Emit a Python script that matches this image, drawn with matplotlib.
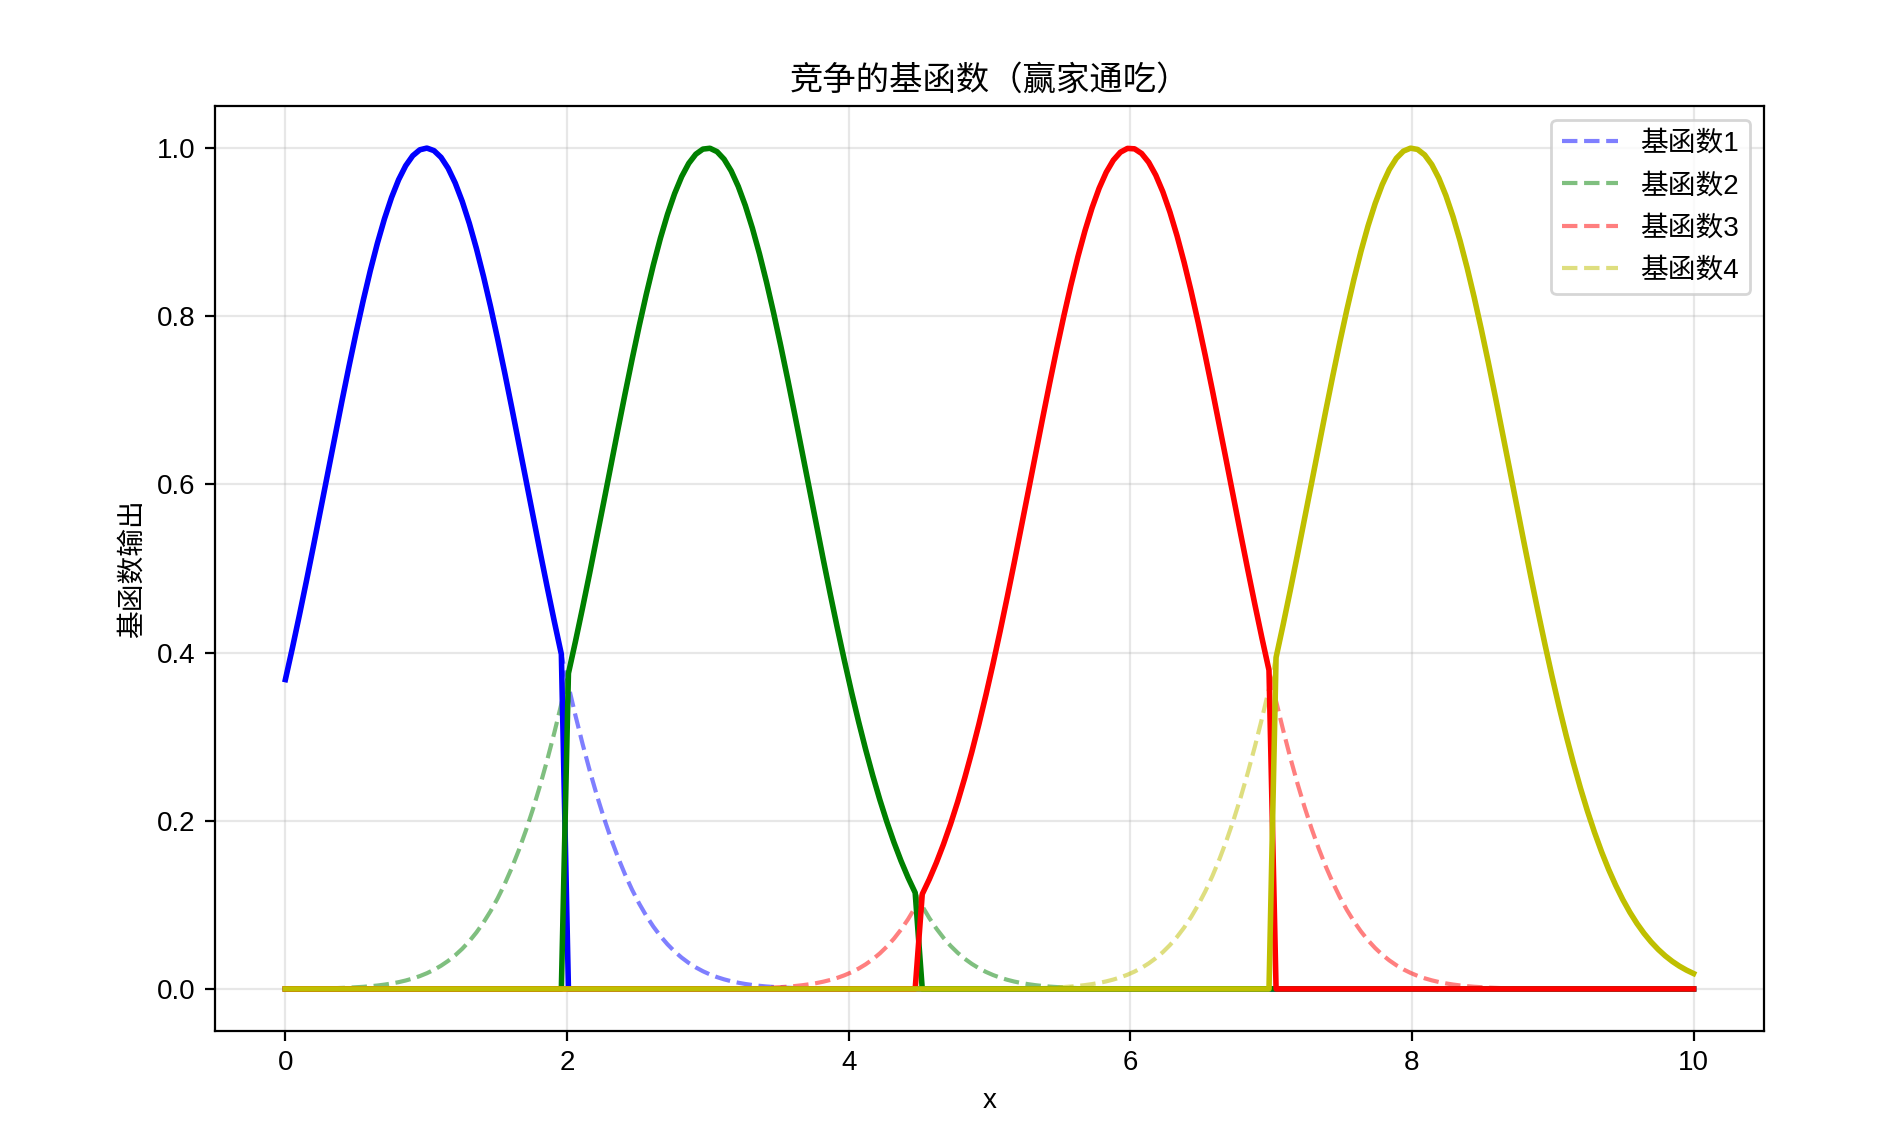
import numpy as np
from matplotlib import pyplot as plt

plt.rcParams['font.family'] = ['Liberation Sans', 'Noto Sans CJK SC']
plt.rcParams['axes.unicode_minus'] = False

centers = [1, 3, 6, 8]
colors = ['b', 'g', 'r', 'y']
labels = ['基函数1', '基函数2', '基函数3', '基函数4']
x_range = [0, 10]
n_points = 200

x = np.linspace(x_range[0], x_range[1], n_points)
phi = np.array([np.exp(-(x - c) ** 2) for c in centers])

# winner takes all: only the largest basis function keeps its value
winner = np.argmax(phi, axis=0)
competitive = np.zeros_like(phi)
for i in range(len(centers)):
    competitive[i] = np.where(winner == i, phi[i], 0.0)

fig = plt.figure(figsize=(9.42, 5.72), dpi=200)
ax = fig.add_axes([0.1141, 0.0988, 0.8222, 0.8085])

for i in range(len(centers)):
    ax.plot(x, phi[i], '--', color=colors[i], alpha=0.5, label=labels[i])
for i in range(len(centers)):
    ax.plot(x, competitive[i], '-', color=colors[i], linewidth=2)

ax.set_title('竞争的基函数（赢家通吃）')
ax.set_xlabel('x')
ax.set_ylabel('基函数输出')
ax.legend(loc='upper right', labelspacing=0.58)
ax.grid(True, alpha=0.3)

fig.savefig('out.png', dpi=200)
